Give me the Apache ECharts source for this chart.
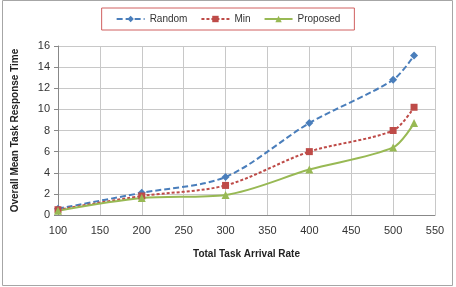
<!DOCTYPE html>
<html>
<head>
<meta charset="utf-8">
<script src="https://cdn.jsdelivr.net/npm/echarts@6/dist/echarts.min.js"></script>
<style>
  html, body { margin: 0; padding: 0; background: #fff; }
  #main { width: 456px; height: 287px; }
</style>
</head>
<body>
<div id="main"></div>
<script>
const xValues = [100, 200, 300, 400, 500, 525]
const randomValues = [0.6, 2.1, 3.6, 8.7, 12.8, 15.1]
const minValues = [0.5, 1.8, 2.8, 6.0, 8.0, 10.2]
const proposedValues = [0.4, 1.6, 1.9, 4.3, 6.4, 8.7]

const toPairs = (ys) => xValues.map((x, i) => [x, ys[i]])

const chart = echarts.init(document.getElementById('main'))
const font = 'Liberation Sans, Arial, sans-serif'

const option = {
  animation: false,
  textStyle: { fontFamily: font },
  graphic: [{
    type: 'rect',
    shape: { x: 2.5, y: 0.5, width: 450, height: 285 },
    style: { fill: 'none', stroke: '#a6a6a6', lineWidth: 1 }
  }],
  legend: {
    top: 8,
    left: 'center',
    itemWidth: 28,
    itemHeight: 8,
    itemGap: 13,
    padding: [6, 14, 6, 14],
    borderColor: '#d06060',
    borderWidth: 1,
    textStyle: { fontSize: 10, color: '#333', fontFamily: font },
    data: ['Random', 'Min', 'Proposed']
  },
  grid: { left: 58, right: 21, top: 46, bottom: 72 },
  xAxis: {
    type: 'value',
    min: 100,
    max: 550,
    interval: 50,
    name: 'Total Task Arrival Rate',
    nameLocation: 'middle',
    nameGap: 34,
    nameTextStyle: { fontSize: 10, fontWeight: 'bold', color: '#222' },
    axisLine: { show: true, lineStyle: { color: '#888' } },
    axisTick: { show: false },
    axisLabel: { fontSize: 11, color: '#333', margin: 10 },
    splitLine: { show: true, lineStyle: { color: '#c8c8c8' } }
  },
  yAxis: {
    type: 'value',
    min: 0,
    max: 16,
    interval: 2,
    name: 'Overall Mean Task Response Time',
    nameLocation: 'middle',
    nameGap: 38,
    nameTextStyle: { fontSize: 10, fontWeight: 'bold', color: '#222' },
    axisLine: { show: true, lineStyle: { color: '#888' } },
    axisTick: { show: true, length: 4, lineStyle: { color: '#888' } },
    axisLabel: { fontSize: 11, color: '#333', margin: 8 },
    splitLine: { show: true, lineStyle: { color: '#c8c8c8' } }
  },
  series: [{
    name: 'Random',
    type: 'line',
    smooth: 0.3,
    data: toPairs(randomValues),
    symbol: 'diamond',
    symbolSize: 8,
    color: '#4a7ebb',
    lineStyle: { width: 2, type: [6, 3] }
  }, {
    name: 'Min',
    type: 'line',
    smooth: 0.3,
    data: toPairs(minValues),
    symbol: 'rect',
    symbolSize: 7,
    color: '#be4b48',
    lineStyle: { width: 2, type: [3, 2] }
  }, {
    name: 'Proposed',
    type: 'line',
    smooth: 0.3,
    data: toPairs(proposedValues),
    symbol: 'triangle',
    symbolSize: 8,
    color: '#98b954',
    lineStyle: { width: 2 }
  }]
}

chart.setOption(option)
</script>
</body>
</html>
